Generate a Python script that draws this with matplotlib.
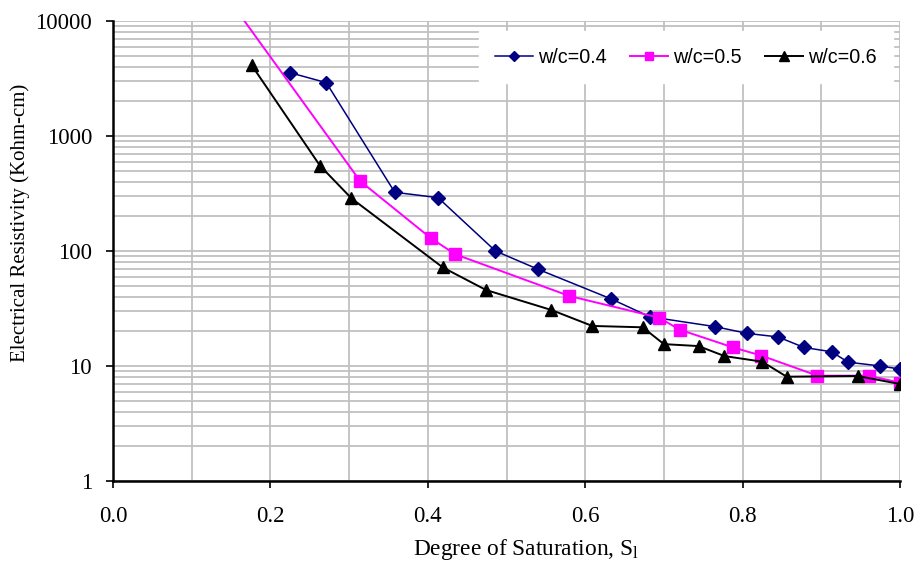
import matplotlib
matplotlib.use("Agg")
import matplotlib.pyplot as plt
from matplotlib.ticker import FixedLocator, LogLocator, NullFormatter, FormatStrFormatter

# Data
s_04 = [0.225, 0.271, 0.358, 0.413, 0.486, 0.540, 0.633, 0.682, 0.765, 0.806, 0.845, 0.878, 0.913, 0.934, 0.975, 1.0]
r_04 = [3550, 2910, 324, 291, 100, 69.4, 38.3, 26.8, 22.0, 19.2, 17.9, 14.5, 13.3, 10.8, 10.0, 9.4]

s_05 = [0.155, 0.314, 0.404, 0.435, 0.580, 0.694, 0.720, 0.788, 0.824, 0.895, 0.960, 1.0]
r_05 = [13000, 406, 129, 93.6, 40.6, 26.3, 20.7, 14.5, 12.3, 8.24, 8.24, 7.16]

s_06 = [0.176, 0.263, 0.303, 0.419, 0.474, 0.557, 0.609, 0.673, 0.700, 0.744, 0.777, 0.825, 0.856, 0.946, 1.0]
r_06 = [4145, 552, 287, 72, 45.8, 30.7, 22.3, 21.7, 15.5, 14.9, 12.2, 10.9, 8.07, 8.19, 6.97]

labels = ["w/c=0.4", "w/c=0.5", "w/c=0.6"]
x_ticks = [0.0, 0.2, 0.4, 0.6, 0.8, 1.0]
y_ticks = [1, 10, 100, 1000, 10000]

fig = plt.figure(figsize=(9.18, 5.62), dpi=100)
ax = fig.add_axes([113/918, 1-481/562, (900-113)/918, (481-21)/562])

ax.plot(s_04, r_04, color="#000080", lw=1.1, marker="D", ms=7, label=labels[0], zorder=3)
ax.plot(s_05, r_05, color="#ff00ff", lw=1.4, marker="s", ms=8, label=labels[1], zorder=3)
ax.plot(s_06, r_06, color="black", lw=1.4, marker="^", ms=9, label=labels[2], zorder=3)

ax.set_yscale("log")
ax.set_xlim(0, 1.0)
ax.set_ylim(1, 10000)

ax.xaxis.set_major_locator(FixedLocator(x_ticks))
ax.xaxis.set_minor_locator(FixedLocator([0.1, 0.3, 0.5, 0.7, 0.9]))
ax.xaxis.set_major_formatter(FormatStrFormatter("%.1f"))
ax.yaxis.set_major_locator(FixedLocator(y_ticks))
ax.yaxis.set_major_formatter(FormatStrFormatter("%d"))
ax.yaxis.set_minor_locator(LogLocator(base=10, subs=range(2, 10)))
ax.yaxis.set_minor_formatter(NullFormatter())

ax.grid(True, which="both", axis="both", color="#c0c0c0", lw=1.3)
ax.set_axisbelow(True)

for sp in ["top", "right"]:
    ax.spines[sp].set_visible(False)
for sp in ["left", "bottom"]:
    ax.spines[sp].set_linewidth(1.8)

ax.tick_params(axis="both", which="major", direction="out", length=5, width=1.2,
               labelsize=16.5)
ax.tick_params(axis="x", which="major", pad=13)
ax.tick_params(axis="y", which="major", pad=10)
ax.tick_params(axis="x", which="minor", length=0)
ax.tick_params(axis="y", which="minor", length=0)
for lab in ax.get_xticklabels() + ax.get_yticklabels():
    lab.set_family("Liberation Serif")

ax.set_xlabel("Degree of Saturation, S$_\\mathregular{l}$", family="Liberation Serif", fontsize=16.8, labelpad=7)
ax.set_ylabel("Electrical Resistivity (Kohm-cm)", family="Liberation Serif", fontsize=15, labelpad=4)
ax.xaxis.label.set_x(0.525)
ax.yaxis.label.set_y(0.561)

leg = ax.legend(loc="upper right", ncol=3, bbox_to_anchor=(1.004, 1.0),
                prop={"family": "Liberation Sans", "size": 14.2},
                frameon=True, fancybox=False, handlelength=1.9, handletextpad=0.26,
                columnspacing=1.2, borderpad=0.85, markerscale=0.75)
leg.get_frame().set_edgecolor("white")
leg.get_frame().set_facecolor("white")
leg.get_frame().set_alpha(1.0)

fig.savefig("out.png", dpi=100)
